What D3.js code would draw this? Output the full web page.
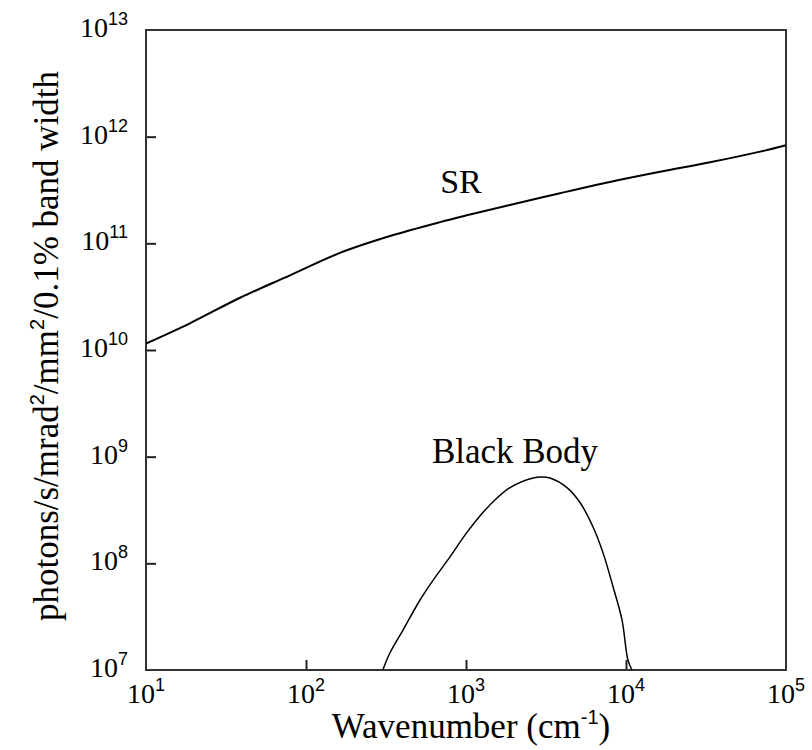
<!DOCTYPE html>
<html>
<head>
<meta charset="utf-8">
<script src="https://cdn.jsdelivr.net/npm/d3@7"></script>
</head>
<body style="margin:0;background:#fff">
<svg id="chart" width="812" height="750"></svg>
<script>
// SR curve (wavenumber cm^-1, photons/s/mrad^2/mm^2/0.1% bw)
const srWave = [10, 18.8, 38.7, 79.4, 163, 335, 688, 1060, 1880, 3870, 7940, 16300, 33500, 68800, 100000];
const srFlux = [1.15e10, 1.78e10, 3.09e10, 5.01e10, 8.13e10, 1.17e11, 1.58e11, 1.86e11, 2.29e11, 2.95e11, 3.76e11, 4.68e11, 5.75e11, 7.24e11, 8.32e11];

// Black body curve
const bbWave = [302, 335, 404, 516, 622, 794, 1014, 1276, 1563, 1884, 2624, 2960, 3350, 4276, 5158, 6223, 7178, 8299, 9441, 10292, 10902];
const bbFlux = [1.0e7, 1.45e7, 2.37e7, 4.53e7, 6.92e7, 1.15e8, 1.95e8, 3.0e8, 4.1e8, 5.13e8, 6.31e8, 6.45e8, 6.31e8, 5.13e8, 3.72e8, 2.19e8, 1.26e8, 6.03e7, 2.95e7, 1.23e7, 1.0e7];

const xTicks = [1, 2, 3, 4, 5];          // exponents of 10
const yTicks = [7, 8, 9, 10, 11, 12, 13];

const SERIF = "'DejaVu Serif', 'Liberation Serif', serif";
const TIMES = "'Liberation Serif', 'Times New Roman', Times, 'DejaVu Serif', serif";
const SANS = "'Liberation Sans', Arial, sans-serif";

const margin = { top: 30, right: 26, bottom: 80, left: 146 },
    width = 812 - margin.left - margin.right,
    height = 750 - margin.top - margin.bottom;

const svg = d3.select("#chart")
    .append("g")
    .attr("transform", `translate(${margin.left},${margin.top})`);

const x = d3.scaleLog().domain([10, 1e5]).range([0, width]);
const y = d3.scaleLog().domain([1e7, 1e13]).range([height, 0]);

// inner ticks
svg.append("g").attr("transform", `translate(0,${height})`)
    .call(d3.axisBottom(x).tickValues(xTicks.slice(1, -1).map(e => Math.pow(10, e))).tickSizeInner(-10).tickSizeOuter(0).tickFormat(""))
    .call(g => g.select(".domain").remove())
    .call(g => g.selectAll("line").attr("stroke", "#222").attr("stroke-width", 2));
svg.append("g")
    .call(d3.axisLeft(y).tickValues(yTicks.slice(1, -1).map(e => Math.pow(10, e))).tickSizeInner(-10).tickSizeOuter(0).tickFormat(""))
    .call(g => g.select(".domain").remove())
    .call(g => g.selectAll("line").attr("stroke", "#222").attr("stroke-width", 2));

// frame
svg.append("rect").attr("width", width).attr("height", height)
    .attr("fill", "none").attr("stroke", "#333").attr("stroke-width", 2);

// tick labels
function powLabel(sel, e) {
    sel.append("tspan").attr("font-family", TIMES).text("10");
    sel.append("tspan").attr("font-family", SANS).attr("font-size", 18).attr("dy", -12).text(e);
}
xTicks.forEach(e => {
    svg.append("text").attr("x", x(Math.pow(10, e))).attr("y", height + 33)
        .attr("text-anchor", "middle").attr("font-size", 28).attr("font-family", TIMES)
        .call(powLabel, e);
});
yTicks.forEach(e => {
    svg.append("text").attr("x", -18).attr("y", y(Math.pow(10, e)) + 7)
        .attr("text-anchor", "end").attr("font-size", 28).attr("font-family", TIMES)
        .call(powLabel, e);
});

// curves
const line = d3.line().x(d => x(d[0])).y(d => y(d[1])).curve(d3.curveCatmullRom.alpha(0.5));
svg.append("path").datum(d3.zip(srWave, srFlux)).attr("d", line)
    .attr("fill", "none").attr("stroke", "#000").attr("stroke-width", 2);
svg.append("path").datum(d3.zip(bbWave, bbFlux)).attr("d", line)
    .attr("fill", "none").attr("stroke", "#000").attr("stroke-width", 1.5);

// curve labels
svg.append("text").attr("x", 461 - margin.left).attr("y", 193 - margin.top)
    .attr("text-anchor", "middle").attr("font-size", 34).attr("font-family", TIMES).text("SR");
svg.append("text").attr("x", 515 - margin.left).attr("y", 463 - margin.top)
    .attr("text-anchor", "middle").attr("font-size", 35).attr("font-family", TIMES).text("Black Body");

// axis titles
const xt = svg.append("text").attr("x", 471 - margin.left).attr("y", height + 68)
    .attr("text-anchor", "middle").attr("font-size", 35).attr("font-family", TIMES);
xt.append("tspan").text("Wavenumber (cm");
xt.append("tspan").attr("font-family", SANS).attr("font-size", 20).attr("dy", -14).text("-1");
xt.append("tspan").attr("dy", 14).text(")");

const yt = svg.append("text").attr("transform", `translate(${58 - margin.left},${346 - margin.top}) rotate(-90)`)
    .attr("text-anchor", "middle").attr("font-size", 35).attr("font-family", TIMES);
yt.append("tspan").text("photons/s/mrad");
yt.append("tspan").attr("font-family", SANS).attr("font-size", 20).attr("dy", -14).text("2");
yt.append("tspan").attr("dy", 14).text("/mm");
yt.append("tspan").attr("font-family", SANS).attr("font-size", 20).attr("dy", -14).text("2");
yt.append("tspan").attr("dy", 14).text("/0.1% band width");
</script>
</body>
</html>
